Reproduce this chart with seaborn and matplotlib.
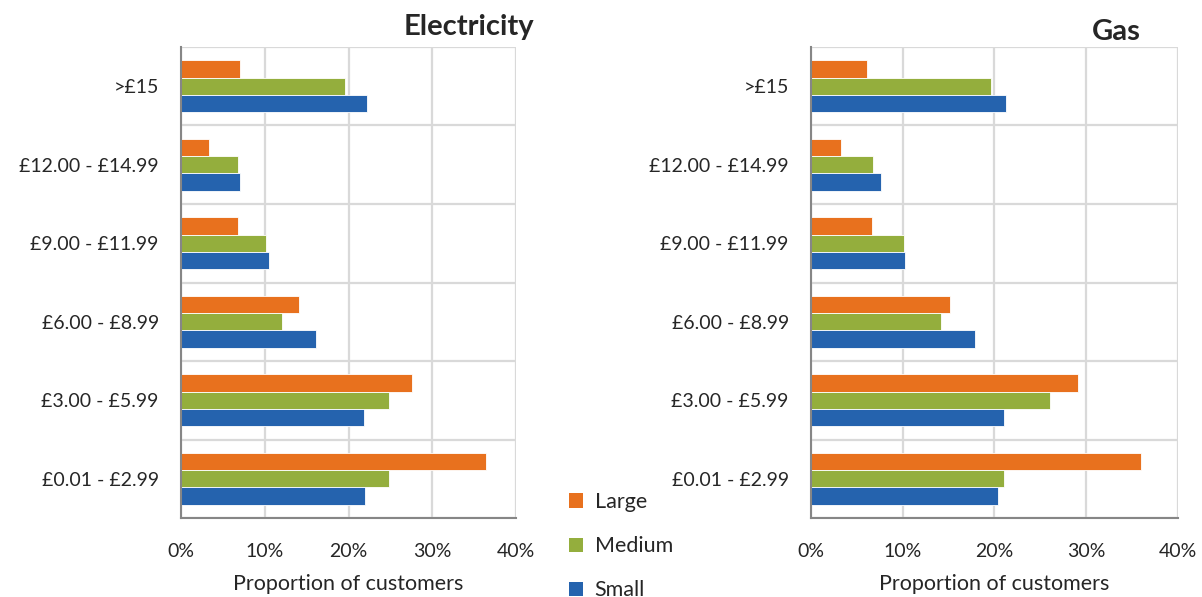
import matplotlib
matplotlib.use("Agg")
import matplotlib.pyplot as plt
import seaborn as sns
import pandas as pd
from matplotlib.patches import Patch
from matplotlib.ticker import PercentFormatter

bands = [">£15", "£12.00 - £14.99", "£9.00 - £11.99", "£6.00 - £8.99", "£3.00 - £5.99", "£0.01 - £2.99"]
sizes = ["Large", "Medium", "Small"]

elec_large = [7.1, 3.4, 6.8, 14.1, 27.6, 36.4]
elec_medium = [19.6, 6.8, 10.2, 12.1, 24.8, 24.8]
elec_small = [22.2, 7.1, 10.5, 16.1, 21.9, 22.0]

gas_large = [6.1, 3.3, 6.6, 15.2, 29.1, 36.0]
gas_medium = [19.6, 6.8, 10.1, 14.2, 26.1, 21.0]
gas_small = [21.3, 7.6, 10.3, 17.9, 21.0, 20.4]

x_ticks = [0, 10, 20, 30, 40]

colors = {"Large": "#E8711E", "Medium": "#94AE3D", "Small": "#2563AE"}


def long_frame(large, medium, small):
    rows = []
    for s, vals in zip(sizes, [large, medium, small]):
        for b, v in zip(bands, vals):
            rows.append({"band": b, "size": s, "value": v})
    return pd.DataFrame(rows)


sns.set_style("white")
plt.rcParams["font.family"] = ["Lato", "DejaVu Sans"]

fig = plt.figure(figsize=(12.02, 5.97), dpi=100)
ax_e = fig.add_axes([0.1506, 0.1323, 0.2787, 0.789])
ax_g = fig.add_axes([0.6747, 0.1323, 0.3053, 0.789])

grid_c = "#D9D9D9"
spine_c = "#868686"

for ax, (lg, md, sm) in [(ax_e, (elec_large, elec_medium, elec_small)),
                         (ax_g, (gas_large, gas_medium, gas_small))]:
    df = long_frame(lg, md, sm)
    sns.barplot(data=df, y="band", x="value", hue="size", order=bands,
                hue_order=sizes, palette=colors, orient="h", width=0.66,
                ax=ax, legend=False, saturation=1, linewidth=0.6,
                edgecolor="white")
    ax.set_xlim(0, 40)
    ax.set_ylim(5.5, -0.5)
    ax.set_xticks(x_ticks)
    ax.xaxis.set_major_formatter(PercentFormatter(decimals=0))
    ax.set_yticks([i - 0.5 for i in range(len(bands) + 1)], minor=True)
    ax.grid(axis="x", which="major", color=grid_c, linewidth=1.6, zorder=0)
    ax.grid(axis="y", which="minor", color=grid_c, linewidth=1.6, zorder=0)
    ax.set_axisbelow(True)
    for side in ["top", "right"]:
        ax.spines[side].set_visible(False)
    for side in ["left", "bottom"]:
        ax.spines[side].set_color(spine_c)
        ax.spines[side].set_linewidth(1.5)
    ax.tick_params(axis="y", which="major", length=0, labelsize=14, pad=16)
    ax.tick_params(axis="y", which="minor", length=6, width=1.5, color=spine_c, direction="out")
    ax.tick_params(axis="x", which="major", length=6, width=1.5, color=spine_c,
                   direction="out", labelsize=14, pad=12)
    ax.set_ylabel("")
    ax.set_xlabel("Proportion of customers", fontsize=15.5, labelpad=10)

fig.text(0.390, 0.955, "Electricity", ha="center", va="center", fontsize=21, fontweight="bold")
fig.text(0.929, 0.946, "Gas", ha="center", va="center", fontsize=21, fontweight="bold")

handles = [Patch(facecolor=colors[s], edgecolor="none") for s in sizes]
fig.legend(handles, sizes, loc="upper left", bbox_to_anchor=(0.457, 0.208),
           frameon=False, fontsize=15.5, labelspacing=1.12,
           handlelength=0.65, handleheight=0.65, handletextpad=0.55)

fig.savefig("out.png", dpi=100)
